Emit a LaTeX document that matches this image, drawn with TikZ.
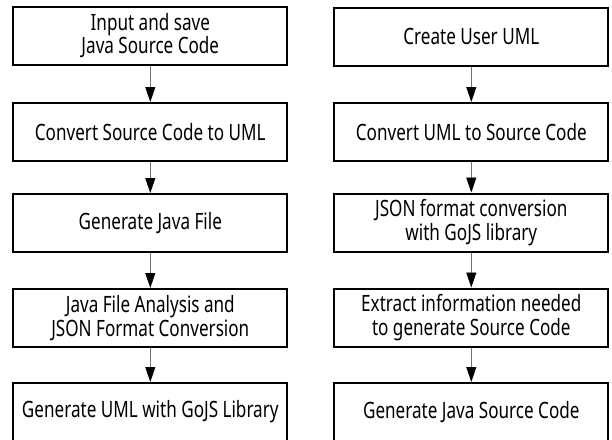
\documentclass[tikz,border=0pt]{standalone}
\usepackage{fontspec}
\setmainfont[FakeStretch=0.76]{Noto Sans}
\usetikzlibrary{arrows.meta}
\tikzset{
  stepbox/.style={draw=black, line width=2pt, fill=white, minimum width=274pt,
    minimum height=58pt, inner sep=0pt, align=center,
    font=\fontsize{22.5}{23.5}\selectfont},
  flow/.style={draw=black!55, line width=0.9pt,
    -{Triangle[length=15pt,width=10pt,fill=black,color=black]}}
}
\begin{document}
\begin{tikzpicture}[x=1pt,y=-1pt]
\useasboundingbox (0,0) rectangle (612,439);
\clip (0,0) rectangle (612,439);
% left column: source code to UML
\node[stepbox] (l1) at (150.3,35.5) {Input and save\\Java Source Code};
\node[stepbox] (l2) at (150.3,132) {Convert Source Code to UML};
\node[stepbox] (l3) at (150.3,223) {Generate Java File};
\node[stepbox] (l4) at (150.3,318) {Java File Analysis and\\JSON Format Conversion};
\node[stepbox] (l5) at (150.3,412) {Generate UML with GoJS Library};
% right column: UML to source code
\node[stepbox] (r1) at (471.3,36.5) {Create User UML};
\node[stepbox] (r2) at (471.3,132) {Convert UML to Source Code};
\node[stepbox] (r3) at (471.3,222.5) {JSON format conversion\\with GoJS library};
\node[stepbox] (r4) at (471.3,317.5) {Extract information needed\\to generate Source Code};
\node[stepbox] (r5) at (471.3,412) {Generate Java Source Code};
\foreach \a/\b in {l1/l2,l2/l3,l3/l4,l4/l5,r1/r2,r2/r3,r3/r4,r4/r5}
  \draw[flow] (\a.south) -- (\b.north);
\end{tikzpicture}
\end{document}
